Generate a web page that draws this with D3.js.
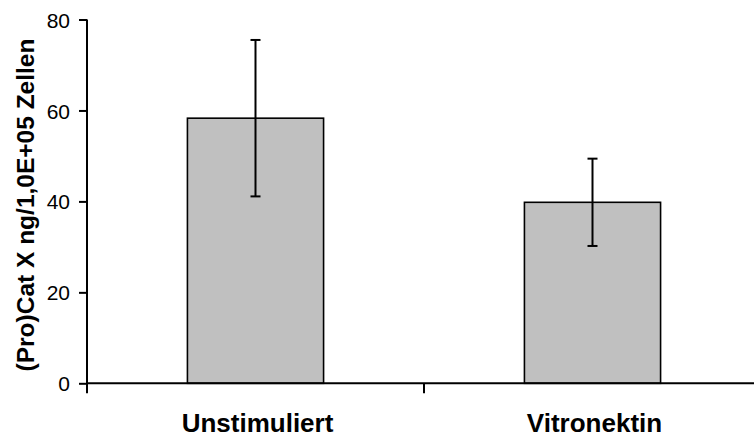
<!DOCTYPE html>
<html>
<head>
<meta charset="utf-8">
<script src="https://cdn.jsdelivr.net/npm/d3@7"></script>
<style>
  html, body { margin: 0; padding: 0; background: #ffffff; }
  svg { display: block; font-family: "Liberation Sans", Arial, sans-serif; }
</style>
</head>
<body>
<svg id="chart" width="754" height="438"></svg>
<script>
// Categories, mean values and standard deviations
const categories = ["Unstimuliert", "Vitronektin"];
const means = [58.3, 39.8];
const errors = [17.2, 9.6];
const yTicks = [0, 20, 40, 60, 80];
const yLabel = "(Pro)Cat X ng/1,0E+05 Zellen";

const svg = d3.select("#chart");
const plotLeft = 87, plotRight = 761, plotTop = 19.5, plotBottom = 383.3;

const x = d3.scaleBand().domain(categories).range([plotLeft, plotRight]).paddingInner(0).paddingOuter(0);
const y = d3.scaleLinear().domain([0, 80]).range([plotBottom, plotTop]);

const barW = x.bandwidth() * 0.404;

// Bars
svg.selectAll("rect.bar")
  .data(categories)
  .enter().append("rect")
  .attr("class", "bar")
  .attr("x", d => x(d) + (x.bandwidth() - barW) / 2)
  .attr("y", (d, i) => y(means[i]))
  .attr("width", barW)
  .attr("height", (d, i) => y(0) - y(means[i]))
  .attr("fill", "#c0c0c0")
  .attr("stroke", "#000")
  .attr("stroke-width", 1.6);

// Error bars
const capW = 10;
const eb = svg.selectAll("g.err").data(categories).enter().append("g").attr("class", "err")
  .attr("stroke", "#000").attr("stroke-width", 2);
eb.append("line")
  .attr("x1", d => x(d) + x.bandwidth() / 2)
  .attr("x2", d => x(d) + x.bandwidth() / 2)
  .attr("y1", (d, i) => y(means[i] + errors[i]))
  .attr("y2", (d, i) => y(means[i] - errors[i]));
eb.append("line")
  .attr("x1", d => x(d) + x.bandwidth() / 2 - capW / 2)
  .attr("x2", d => x(d) + x.bandwidth() / 2 + capW / 2)
  .attr("y1", (d, i) => y(means[i] + errors[i]))
  .attr("y2", (d, i) => y(means[i] + errors[i]));
eb.append("line")
  .attr("x1", d => x(d) + x.bandwidth() / 2 - capW / 2)
  .attr("x2", d => x(d) + x.bandwidth() / 2 + capW / 2)
  .attr("y1", (d, i) => y(means[i] - errors[i]))
  .attr("y2", (d, i) => y(means[i] - errors[i]));

// Y axis
const yAxis = svg.append("g")
  .attr("transform", `translate(${plotLeft},0)`)
  .call(d3.axisLeft(y).tickValues(yTicks).tickSize(8).tickPadding(9).tickFormat(d3.format("d")));
yAxis.select(".domain").attr("stroke", "#000").attr("stroke-width", 2).attr("d", `M0,${plotTop}V${plotBottom}`);
yAxis.selectAll(".tick line").attr("stroke", "#000").attr("stroke-width", 2);
yAxis.selectAll(".tick text").attr("fill", "#000").style("font-size", "21px").attr("dy", "0.36em");

// X axis with boundary ticks between categories
const xAxis = svg.append("g").attr("transform", `translate(0,${plotBottom})`);
xAxis.append("line")
  .attr("x1", plotLeft).attr("x2", 754).attr("y1", 0).attr("y2", 0)
  .attr("stroke", "#000").attr("stroke-width", 2);
const bounds = categories.map(c => x(c)).concat([plotRight]);
xAxis.selectAll("line.bt").data(bounds).enter().append("line").attr("class", "bt")
  .attr("x1", d => d).attr("x2", d => d).attr("y1", 0).attr("y2", 10)
  .attr("stroke", "#000").attr("stroke-width", 2);
xAxis.selectAll("text").data(categories).enter().append("text")
  .attr("x", d => x(d) + x.bandwidth() / 2 + 2)
  .attr("y", 49)
  .attr("text-anchor", "middle")
  .style("font-size", "26px").style("font-weight", "bold")
  .attr("fill", "#000")
  .text(d => d);

// Y axis title
svg.append("text")
  .attr("transform", `translate(34,205) rotate(-90)`)
  .attr("text-anchor", "middle")
  .style("font-size", "24.5px").style("font-weight", "bold")
  .attr("fill", "#000")
  .text(yLabel);
</script>
</body>
</html>
